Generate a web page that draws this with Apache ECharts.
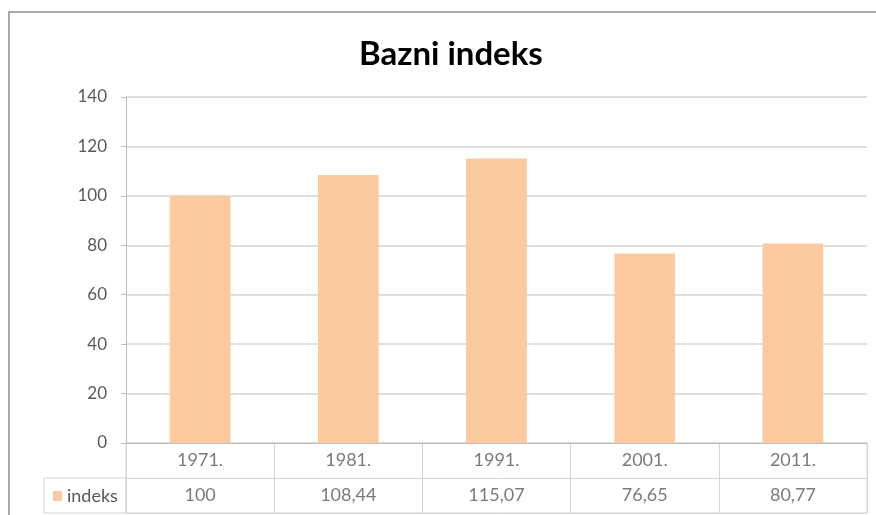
<!DOCTYPE html>
<html>
<head>
    <meta charset="utf-8">
    <title>Bazni indeks</title>
    <style>
        html, body { margin: 0; padding: 0; background: #fff; overflow: hidden; }
        #frame { position: absolute; left: 8px; top: 11px; width: 900px; height: 600px; border: 2px solid #a9a9a9; }
        #main { position: absolute; left: 0; top: 0; width: 876px; height: 515px; }
    </style>
</head>
<body>
<div id="frame"></div>
<div id="main"></div>

<script type="text/javascript" src="https://cdn.jsdelivr.net/npm/echarts@6/dist/echarts.min.js"></script>
<script type="text/javascript">
    // podaci
    var godine = ['1971.', '1981.', '1991.', '2001.', '2011.'];
    var indeks = [100, 108.44, 115.07, 76.65, 80.77];
    var redovi = ['godina', 'indeks'];   // redovi tablice s podacima

    var sivo = '#595959';
    var linije = '#d4d4d4';

    function broj(v) { return String(v).replace('.', ','); }

    var myChart = echarts.init(document.getElementById('main'));
    var option = {
        animation: false,
        title: {
            text: 'Bazni indeks',
            left: 354,
            top: 33,
            textStyle: { fontFamily: 'Lato', fontWeight: 'bold', fontSize: 33, color: '#000' }
        },
        legend: {
            data: ['indeks'],
            left: 53,
            top: 487,
            padding: 0,
            icon: 'rect',
            itemWidth: 9,
            itemHeight: 10,
            itemGap: 4,
            textStyle: { fontFamily: 'Lato', fontSize: 18, color: sivo, padding: [0, 0, 0, 0] }
        },
        grid: [{
            left: 126, right: 9, top: 97, height: 346
        }, {
            left: 126, right: 9, top: 443, height: 70,
            show: true, borderColor: linije, borderWidth: 1
        }, {
            left: 44, width: 82, top: 478, height: 35,
            show: true, borderColor: linije, borderWidth: 1
        }],
        xAxis: [{
            type: 'category',
            data: godine,
            axisLine: { lineStyle: { color: '#bfbfbf' } },
            axisTick: { show: false },
            axisLabel: { show: false }
        }, {
            gridIndex: 1,
            type: 'category',
            data: godine,
            axisLine: { show: false },
            axisTick: { show: false },
            axisLabel: { show: false },
            splitLine: { show: true, lineStyle: { color: linije } }
        }, {
            gridIndex: 2, type: 'value', show: false
        }],
        yAxis: [{
            type: 'value',
            min: 0, max: 140, interval: 20,
            axisLine: { show: true, lineStyle: { color: '#bfbfbf' } },
            axisTick: { show: true, length: 5, lineStyle: { color: '#bfbfbf' } },
            axisLabel: { margin: 19, fontFamily: 'Lato', fontSize: 17, color: sivo },
            splitLine: { lineStyle: { color: linije, width: 1.5 } }
        }, {
            gridIndex: 1,
            type: 'category',
            data: redovi,
            inverse: true,
            axisLine: { show: false },
            axisTick: { show: false },
            axisLabel: { show: false },
            splitLine: { show: true, interval: 0, lineStyle: { color: linije } }
        }, {
            gridIndex: 2, type: 'value', show: false
        }],
        series: [{
            name: 'indeks',
            type: 'bar',
            data: indeks,
            barWidth: '41%',
            itemStyle: { color: '#fbcaa0' }
        }, {
            name: 'godine',
            type: 'scatter',
            xAxisIndex: 1, yAxisIndex: 1,
            symbolSize: 0,
            silent: true,
            data: godine.map(function (g) { return [g, 'godina']; }),
            label: {
                show: true, position: 'inside',
                fontFamily: 'Lato', fontSize: 18, color: sivo,
                formatter: function (p) { return p.value[0]; }
            }
        }, {
            name: 'vrijednosti',
            type: 'scatter',
            xAxisIndex: 1, yAxisIndex: 1,
            symbolSize: 0,
            silent: true,
            data: godine.map(function (g, i) { return [g, 'indeks', indeks[i]]; }),
            label: {
                show: true, position: 'inside',
                fontFamily: 'Lato', fontSize: 18, color: sivo,
                formatter: function (p) { return broj(p.value[2]); }
            }
        }]
    };
    myChart.setOption(option);
</script>
</body>
</html>
